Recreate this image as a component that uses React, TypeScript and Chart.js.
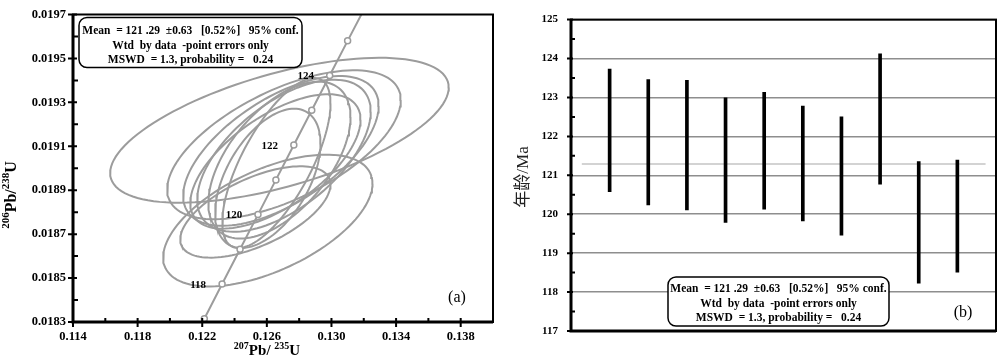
import React, { useEffect, useRef } from "react";
import { Chart, registerables } from "chart.js";
Chart.register(...registerables);

// ---------- Panel (a): concordia diagram ----------
const xTicksA = [0.114, 0.118, 0.122, 0.126, 0.13, 0.134, 0.138];
const yTicksA = [0.0183, 0.0185, 0.0187, 0.0189, 0.0191, 0.0193, 0.0195, 0.0197];
const xRangeA = [0.114, 0.14];
const yRangeA = [0.0183, 0.0197];

const concordiaAges = [116.8, 117, 118, 119, 120, 121, 122, 123, 124, 125, 126];
const concordiaX = [0.12191, 0.12213, 0.12323, 0.12434, 0.12545, 0.12656, 0.12767, 0.12878, 0.12989, 0.131, 0.13212];
const concordiaY = [0.018284, 0.018315, 0.018473, 0.018631, 0.018789, 0.018947, 0.019106, 0.019264, 0.019422, 0.01958, 0.019738];
const circleAges = [117, 118, 119, 120, 121, 122, 123, 124, 125];
const labelledAges = [118, 120, 122, 124];

// error ellipses: centre, half-widths and correlation
const ellCx = [0.12678, 0.12606, 0.12706, 0.12687, 0.12706, 0.12678, 0.12659, 0.12606, 0.12529, 0.12653];
const ellSx = [0.01048, 0.00648, 0.00723, 0.00605, 0.00537, 0.0044, 0.00335, 0.00326, 0.00465, 0.00527];
const ellCy = [0.019173, 0.018762, 0.019107, 0.019079, 0.019057, 0.019037, 0.019024, 0.018954, 0.018801, 0.019031];
const ellSy = [0.00033, 0.0003, 0.000339, 0.000341, 0.000346, 0.000357, 0.000387, 0.000317, 0.000208, 0.000306];
const ellRho = [0.59, 0.56, 0.6, 0.6, 0.58, 0.55, 0.7, 0.5, 0.6, 0.62];

// ---------- Panel (b): weighted mean ----------
const spotIndex = [1, 2, 3, 4, 5, 6, 7, 8, 9, 10];
const ageHigh = [123.73, 123.46, 123.44, 122.99, 123.13, 122.78, 122.5, 124.12, 121.35, 121.39];
const ageLow = [120.58, 120.24, 120.11, 119.79, 120.13, 119.83, 119.46, 120.77, 118.23, 118.51];
const meanAge = 121.29;
const meanLineX = [0.28, 10.73];
const xRangeB = [0, 11];
const yTicksB = [117, 118, 119, 120, 121, 122, 123, 124, 125];

const statLines = [
  "Mean  = 121 .29  \u00b10.63   [0.52%]   95% conf.",
  "Wtd  by data  -point errors only",
  "MSWD  = 1.3, probability =   0.24",
];

const GRAY = "#9c9c9c";
const SERIF = '"Liberation Serif", "Times New Roman", serif';

function ellipsePoints(cx: number, cy: number, sx: number, sy: number, rho: number) {
  const pts: { x: number; y: number }[] = [];
  const k = Math.sqrt(1 - rho * rho);
  const n = 120;
  for (let i = 0; i <= n; i++) {
    const t = (i / n) * Math.PI * 2;
    pts.push({ x: cx + sx * Math.cos(t), y: cy + sy * (rho * Math.cos(t) + k * Math.sin(t)) });
  }
  return pts;
}

function midpoints(arr: number[]) {
  const out: number[] = [];
  for (let i = 0; i < arr.length - 1; i++) out.push((arr[i] + arr[i + 1]) / 2);
  return out;
}

type Part = { t: string; sup?: boolean };
function drawParts(ctx: CanvasRenderingContext2D, parts: Part[], cx: number, cy: number, size: number, supSize: number) {
  const fMain = `bold ${size}px ${SERIF}`;
  const fSup = `bold ${supSize}px ${SERIF}`;
  let w = 0;
  for (const p of parts) {
    ctx.font = p.sup ? fSup : fMain;
    w += ctx.measureText(p.t).width;
  }
  let x = cx - w / 2;
  ctx.textAlign = "left";
  ctx.textBaseline = "alphabetic";
  for (const p of parts) {
    ctx.font = p.sup ? fSup : fMain;
    ctx.fillText(p.t, x, p.sup ? cy - size * 0.42 : cy);
    x += ctx.measureText(p.t).width;
  }
}

function drawBox(ctx: CanvasRenderingContext2D, x: number, y: number, w: number, h: number, lineYs: number[]) {
  ctx.beginPath();
  (ctx as any).roundRect(x, y, w, h, 8);
  ctx.fillStyle = "#fff";
  ctx.fill();
  ctx.lineWidth = 1.5;
  ctx.strokeStyle = "#000";
  ctx.stroke();
  ctx.fillStyle = "#000";
  ctx.font = `bold 11.5px ${SERIF}`;
  ctx.textAlign = "center";
  ctx.textBaseline = "middle";
  statLines.forEach((s, i) => ctx.fillText(s, x + w / 2, y + lineYs[i]));
}

const panelAPlugin = {
  id: "panelA",
  afterDraw(chart: any) {
    const ctx: CanvasRenderingContext2D = chart.ctx;
    const { left, right, top, bottom } = chart.chartArea;
    const xs = chart.scales.x;
    const ys = chart.scales.y;
    ctx.save();
    ctx.fillStyle = "#000";
    ctx.font = `bold 11px ${SERIF}`;
    ctx.textAlign = "center";
    ctx.textBaseline = "middle";
    labelledAges.forEach((a) => {
      const i = concordiaAges.indexOf(a);
      ctx.fillText(String(a), xs.getPixelForValue(concordiaX[i]) - 24, ys.getPixelForValue(concordiaY[i]) + 1);
    });
    ctx.strokeStyle = "#000";
    ctx.lineWidth = 2;
    ctx.strokeRect(left, top, right - left, bottom - top);
    ctx.lineWidth = 3;
    ctx.beginPath();
    ctx.moveTo(left, top);
    ctx.lineTo(left, bottom);
    ctx.lineTo(right, bottom);
    ctx.stroke();
    ctx.lineWidth = 2;
    ctx.beginPath();
    xTicksA.forEach((v) => {
      const p = xs.getPixelForValue(v);
      ctx.moveTo(p, bottom - 4);
      ctx.lineTo(p, bottom + 5);
    });
    midpoints(xTicksA).forEach((v) => {
      const p = xs.getPixelForValue(v);
      ctx.moveTo(p, bottom - 4);
      ctx.lineTo(p, bottom);
    });
    yTicksA.forEach((v) => {
      const p = ys.getPixelForValue(v);
      ctx.moveTo(left - 5, p);
      ctx.lineTo(left + 4, p);
    });
    midpoints(yTicksA).forEach((v) => {
      const p = ys.getPixelForValue(v);
      ctx.moveTo(left, p);
      ctx.lineTo(left + 5, p);
    });
    ctx.stroke();
    drawBox(ctx, left + 6, top + 3, 223, 50, [14, 29, 43]);
    ctx.fillStyle = "#000";
    ctx.font = `16px ${SERIF}`;
    ctx.textAlign = "center";
    ctx.textBaseline = "middle";
    ctx.fillText("(a)", right - 36, bottom - 24);
    drawParts(ctx, [{ t: "207", sup: true }, { t: "Pb/ " }, { t: "235", sup: true }, { t: "U" }], (left + right) / 2 - 16, 355, 15, 10);
    ctx.translate(16, 195);
    ctx.rotate(-Math.PI / 2);
    drawParts(ctx, [{ t: "206", sup: true }, { t: "Pb/" }, { t: "238", sup: true }, { t: "U" }], 0, 0, 16, 11);
    ctx.restore();
  },
};

const panelBPlugin = {
  id: "panelB",
  afterDraw(chart: any) {
    const ctx: CanvasRenderingContext2D = chart.ctx;
    const { left, right, top, bottom } = chart.chartArea;
    const ys = chart.scales.y;
    ctx.save();
    ctx.strokeStyle = "#000";
    ctx.lineWidth = 2;
    ctx.strokeRect(left, top, right - left, bottom - top);
    ctx.lineWidth = 3;
    ctx.beginPath();
    ctx.moveTo(left, top);
    ctx.lineTo(left, bottom);
    ctx.lineTo(right, bottom);
    ctx.stroke();
    ctx.lineWidth = 2;
    ctx.beginPath();
    yTicksB.forEach((v) => {
      const p = ys.getPixelForValue(v);
      ctx.moveTo(left - 4, p);
      ctx.lineTo(left + 2, p);
    });
    midpoints(yTicksB).forEach((v) => {
      const p = ys.getPixelForValue(v);
      ctx.moveTo(left, p);
      ctx.lineTo(left + 4, p);
    });
    ctx.stroke();
    drawBox(ctx, left + 97, bottom - 54, 221, 49, [12, 27, 41]);
    ctx.fillStyle = "#000";
    ctx.font = `16px ${SERIF}`;
    ctx.textAlign = "center";
    ctx.textBaseline = "middle";
    ctx.fillText("(b)", right - 33, bottom - 18);
    ctx.translate(24, 177);
    ctx.rotate(-Math.PI / 2);
    ctx.font = `17px ${SERIF}, "Noto Sans CJK SC"`;
    ctx.fillStyle = "#222";
    ctx.fillText("\u5e74\u9f84/Ma", 0, 0);
    ctx.restore();
  },
};

export default function App() {
  const refA = useRef<HTMLCanvasElement>(null);
  const refB = useRef<HTMLCanvasElement>(null);

  useEffect(() => {
    const ellipseSets = ellCx.map((cx, i) => ({
      type: "line" as const,
      data: ellipsePoints(cx, ellCy[i], ellSx[i], ellSy[i], ellRho[i]),
      borderColor: GRAY,
      borderWidth: 2,
      pointRadius: 0,
      tension: 0,
      fill: false,
    }));
    const concordia = {
      type: "line" as const,
      data: concordiaAges.map((a, i) => ({ x: concordiaX[i], y: concordiaY[i] })),
      borderColor: GRAY,
      borderWidth: 2,
      pointRadius: concordiaAges.map((a) => (circleAges.includes(a) ? 3 : 0)),
      pointBorderColor: GRAY,
      pointBorderWidth: 1.5,
      pointBackgroundColor: "#fff",
      tension: 0,
      fill: false,
    };
    const chartA = new Chart(refA.current!, {
      type: "scatter",
      data: { datasets: [concordia, ...ellipseSets] as any },
      options: {
        animation: false,
        responsive: false,
        devicePixelRatio: 1,
        layout: { padding: { left: 0, right: 7, top: 2, bottom: 0 } },
        plugins: { legend: { display: false }, tooltip: { enabled: false } },
        scales: {
          x: {
            type: "linear",
            min: xRangeA[0],
            max: xRangeA[1],
            afterBuildTicks: (s: any) => {
              s.ticks = xTicksA.map((v) => ({ value: v }));
            },
            afterFit: (s: any) => {
              s.height = 39;
            },
            grid: { display: false, drawTicks: false },
            border: { display: false },
            ticks: {
              padding: 7,
              color: "#000",
              font: { family: "Liberation Serif", size: 12.5, weight: "bold" },
              callback: (v: any) => Number(v).toFixed(3),
            },
          },
          y: {
            type: "linear",
            min: yRangeA[0],
            max: yRangeA[1],
            afterBuildTicks: (s: any) => {
              s.ticks = yTicksA.map((v) => ({ value: v }));
            },
            afterFit: (s: any) => {
              s.width = 73;
            },
            grid: { display: false, drawTicks: false },
            border: { display: false },
            ticks: {
              padding: 7,
              color: "#000",
              font: { family: "Liberation Serif", size: 12.5, weight: "bold" },
              callback: (v: any) => Number(v).toFixed(4),
            },
          },
        },
      } as any,
      plugins: [panelAPlugin],
    });

    const chartB = new Chart(refB.current!, {
      type: "bar",
      data: {
        datasets: [
          {
            type: "bar",
            data: spotIndex.map((x, i) => ({ x, y: [ageLow[i], ageHigh[i]] })),
            backgroundColor: "#000",
            borderWidth: 0,
            barThickness: 3,
          },
          {
            type: "line",
            data: meanLineX.map((x) => ({ x, y: meanAge })),
            borderColor: "#c4c4c4",
            borderWidth: 1.5,
            pointRadius: 0,
            fill: false,
          },
        ] as any,
      },
      options: {
        animation: false,
        responsive: false,
        devicePixelRatio: 1,
        layout: { padding: { left: 0, right: 4, top: 5, bottom: 30 } },
        plugins: { legend: { display: false }, tooltip: { enabled: false } },
        scales: {
          x: {
            type: "linear",
            min: xRangeB[0],
            max: xRangeB[1],
            offset: false,
            display: false,
          },
          y: {
            type: "linear",
            min: yTicksB[0],
            max: yTicksB[yTicksB.length - 1],
            afterBuildTicks: (s: any) => {
              s.ticks = yTicksB.map((v) => ({ value: v }));
            },
            afterFit: (s: any) => {
              s.width = 71;
            },
            grid: { color: "#8e8e8e", lineWidth: 1.5, drawTicks: false },
            border: { display: false },
            ticks: {
              padding: 13,
              color: "#000",
              font: { family: "Liberation Serif", size: 11, weight: "bold" },
            },
          },
        },
      } as any,
      plugins: [panelBPlugin],
    });

    return () => {
      chartA.destroy();
      chartB.destroy();
    };
  }, []);

  return (
    <div style={{ position: "absolute", left: 0, top: 0, width: 1000, height: 361, background: "#fff" }}>
      <canvas ref={refA} width={500} height={361} style={{ position: "absolute", left: 0, top: 0, width: 500, height: 361 }} />
      <canvas ref={refB} width={500} height={361} style={{ position: "absolute", left: 500, top: 0, width: 500, height: 361 }} />
    </div>
  );
}
